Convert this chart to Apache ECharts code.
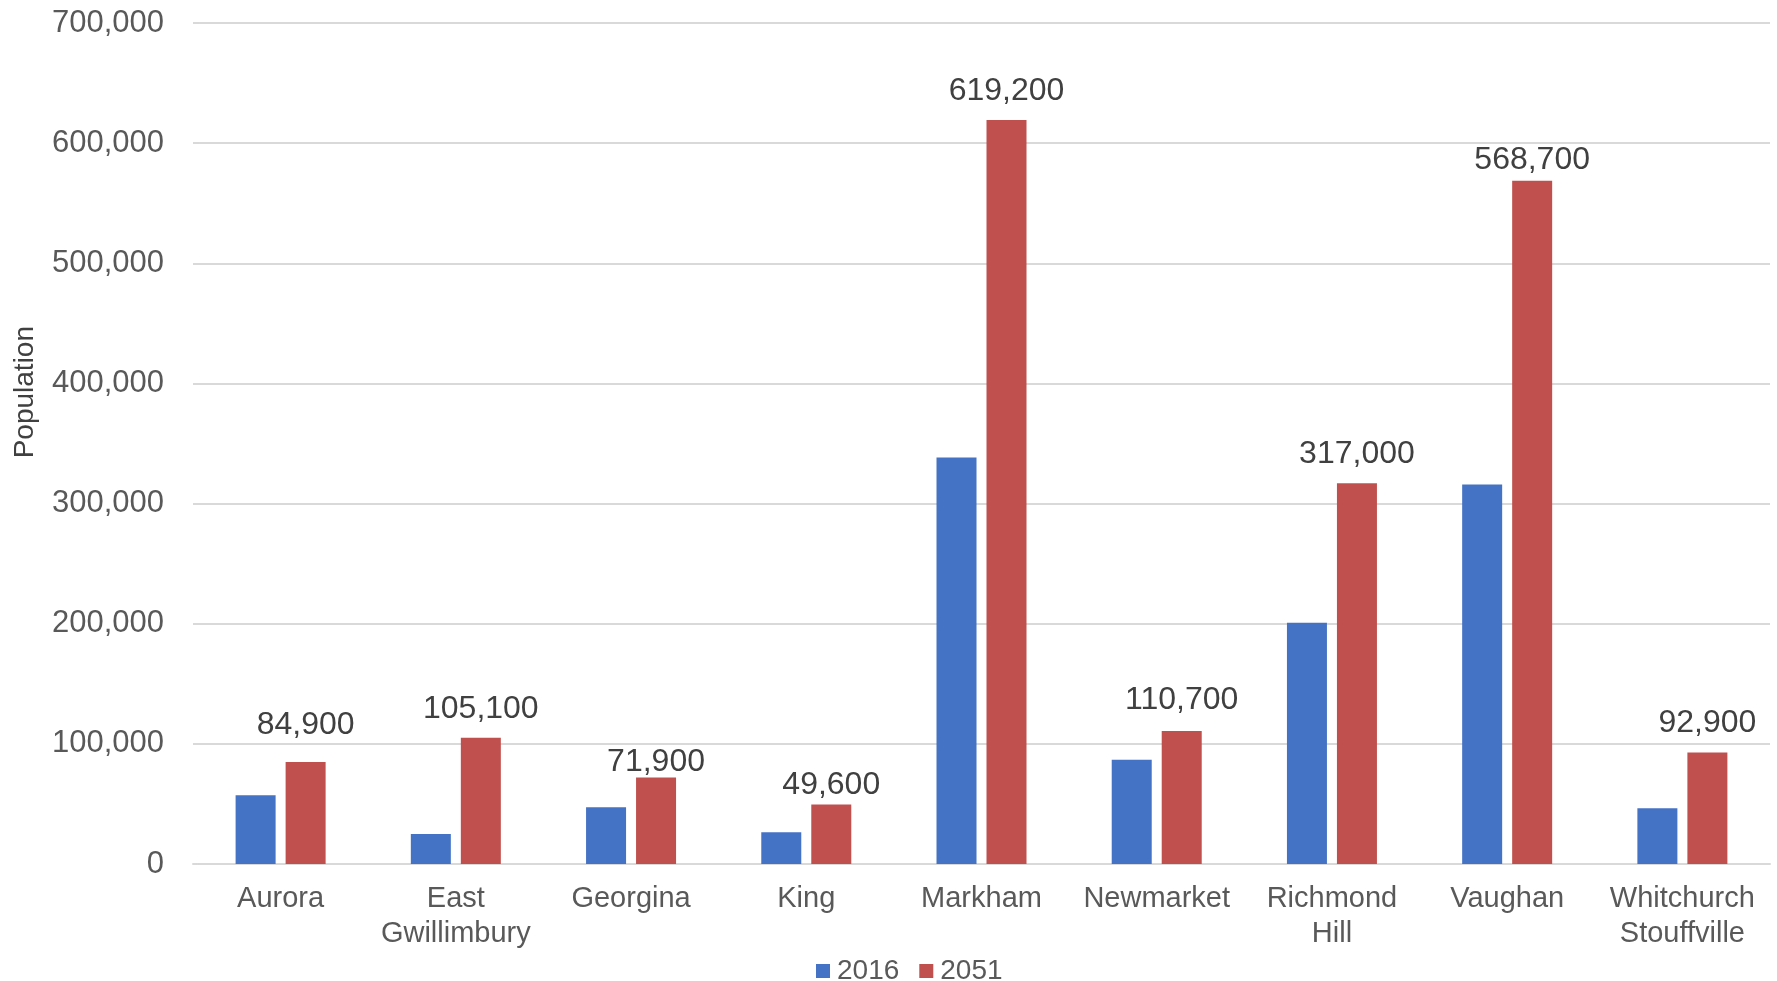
<!DOCTYPE html>
<html>
<head>
<meta charset="utf-8">
<title>Population 2016 / 2051</title>
<script src="https://cdn.jsdelivr.net/npm/echarts@6/dist/echarts.min.js"></script>
<style>
	html, body { margin: 0; padding: 0; background: #fff; }
	#main { width: 1777px; height: 981px; }
</style>
</head>
<body>
<div id="main"></div>
<script>
var municipalities = ['Aurora', 'East\nGwillimbury', 'Georgina', 'King', 'Markham',
	'Newmarket', 'Richmond\nHill', 'Vaughan', 'Whitchurch\nStouffville'];
var pop2016 = [57200, 25000, 47200, 26400, 338400, 86800, 200700, 315900, 46300];
var pop2051 = [84900, 105100, 71900, 49600, 619200, 110700, 317000, 568700, 92900];
var yTicks = [0, 100000, 200000, 300000, 400000, 500000, 600000, 700000];

// gap between bar top and its label, as in the original (labels were hand placed)
var labelLift = [21, 13, -1, 3, 13, 15, 13, 5, 13];

var fmt = function(v){
	return v.toLocaleString('en-US');
};

var chart = echarts.init(document.getElementById('main'));

var data2051 = [];
for(var i = 0; i < pop2051.length; i++){
	data2051.push({
		value: pop2051[i],
		label: { distance: labelLift[i] }
	});
}

var option = {
	animation: false,
	textStyle: { fontFamily: 'Liberation Sans, Arial, sans-serif' },
	grid: { left: 193, right: 7, top: 23, bottom: 117, containLabel: false },
	legend: {
		left: 811,
		top: 952,
		itemWidth: 14,
		itemHeight: 14,
		itemGap: 20,
		icon: 'rect',
		textStyle: { fontSize: 28, color: '#595959', padding: [0, 0, 0, 2] },
		data: ['2016', '2051']
	},
	graphic: [{
		type: 'text',
		left: 11,
		top: 326,
		rotation: Math.PI / 2,
		style: {
			text: 'Population',
			fontSize: 28,
			fill: '#404040',
			fontFamily: 'Liberation Sans, Arial, sans-serif'
		}
	}],
	xAxis: {
		type: 'category',
		data: municipalities,
		axisTick: { show: false },
		axisLine: { lineStyle: { color: '#d9d9d9', width: 2 } },
		axisLabel: {
			fontSize: 29,
			color: '#595959',
			lineHeight: 35,
			margin: 17,
			interval: 0
		}
	},
	yAxis: {
		type: 'value',
		min: yTicks[0],
		max: yTicks[yTicks.length - 1],
		interval: 100000,
		axisLine: { show: false },
		axisTick: { show: false },
		splitLine: { lineStyle: { color: '#d9d9d9', width: 2 } },
		axisLabel: {
			fontSize: 31,
			color: '#595959',
			margin: 29,
			formatter: function(v){ return fmt(v); }
		}
	},
	series: [
		{
			name: '2016',
			type: 'bar',
			data: pop2016,
			barWidth: 40,
			barGap: '25%',
			itemStyle: { color: '#4472c4' }
		},
		{
			name: '2051',
			type: 'bar',
			data: data2051,
			barWidth: 40,
			itemStyle: { color: '#c0504d' },
			label: {
				show: true,
				position: 'top',
				fontSize: 32,
				color: '#404040',
				formatter: function(p){ return fmt(p.value); }
			}
		}
	]
};
chart.setOption(option);
</script>
</body>
</html>
